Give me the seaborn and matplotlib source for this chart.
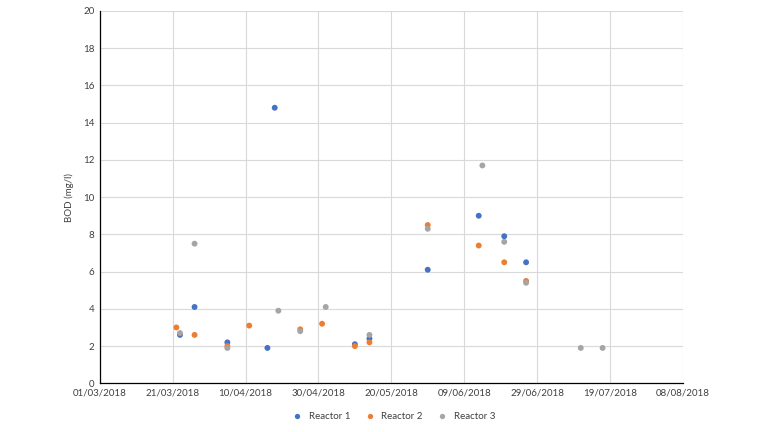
import matplotlib
matplotlib.use("Agg")
import matplotlib.pyplot as plt
import matplotlib.dates as mdates
import seaborn as sns
import pandas as pd

r1_dates = ["2018-03-23", "2018-03-27", "2018-04-05", "2018-04-16", "2018-04-18", "2018-05-10",
            "2018-05-14", "2018-05-30", "2018-06-13", "2018-06-20", "2018-06-26"]
r1_vals = [2.6, 4.1, 2.2, 1.9, 14.8, 2.1, 2.4, 6.1, 9.0, 7.9, 6.5]

r2_dates = ["2018-03-22", "2018-03-27", "2018-04-05", "2018-04-11", "2018-04-25", "2018-05-01",
            "2018-05-10", "2018-05-14", "2018-05-30", "2018-06-13", "2018-06-20", "2018-06-26"]
r2_vals = [3.0, 2.6, 2.0, 3.1, 2.9, 3.2, 2.0, 2.2, 8.5, 7.4, 6.5, 5.5]

r3_dates = ["2018-03-23", "2018-03-27", "2018-04-05", "2018-04-19", "2018-04-25", "2018-05-02",
            "2018-05-14", "2018-05-30", "2018-06-14", "2018-06-20", "2018-06-26", "2018-07-11",
            "2018-07-17"]
r3_vals = [2.7, 7.5, 1.9, 3.9, 2.8, 4.1, 2.6, 8.3, 11.7, 7.6, 5.4, 1.9, 1.9]

series_names = ["Reactor 1", "Reactor 2", "Reactor 3"]
colors = ["#4472C4", "#ED7D31", "#A5A5A5"]

frames = []
for name, d, v in zip(series_names, [r1_dates, r2_dates, r3_dates], [r1_vals, r2_vals, r3_vals]):
    frames.append(pd.DataFrame({"date": pd.to_datetime(d), "BOD": v, "series": name}))
df = pd.concat(frames, ignore_index=True)

sns.set_style("white")
plt.rcParams['font.family'] = ['Lato', 'DejaVu Sans']

fig = plt.figure(figsize=(7.68, 4.32), dpi=100)
ax = fig.add_axes([0.130, 0.1127, 0.759, 0.862])

sns.scatterplot(data=df, x="date", y="BOD", hue="series", hue_order=series_names,
                palette=colors, s=18, linewidth=0, ax=ax, zorder=3)

start = pd.Timestamp("2018-03-01")
end = pd.Timestamp("2018-08-08")
ax.set_xlim(start, end)
ticks = pd.date_range(start, end, freq="20D")
ax.set_xticks(ticks)
ax.xaxis.set_major_formatter(mdates.DateFormatter("%d/%m/%Y"))
ax.set_ylim(0, 20)
ax.set_yticks(range(0, 21, 2))

ax.grid(True, color="#D9D9D9", linewidth=0.8, zorder=0)
ax.set_axisbelow(True)
for s in ["top", "right"]:
    ax.spines[s].set_visible(False)
for s in ["left", "bottom"]:
    ax.spines[s].set_color("#000000")
    ax.spines[s].set_linewidth(0.9)

ax.tick_params(axis="both", labelsize=7, colors="#404040", length=0, pad=4)
ax.set_xlabel("")
ax.set_ylabel("BOD (mg/l)", fontsize=7, color="#404040", labelpad=6)

handles, labels = ax.get_legend_handles_labels()
ax.legend(handles, labels, loc="center", bbox_to_anchor=(0.5, -0.09), ncol=3, frameon=False,
          fontsize=7, handletextpad=0.2, columnspacing=1.0, markerscale=0.9,
          labelcolor="#404040", bbox_transform=ax.transAxes)

fig.savefig("out.png", dpi=100)
